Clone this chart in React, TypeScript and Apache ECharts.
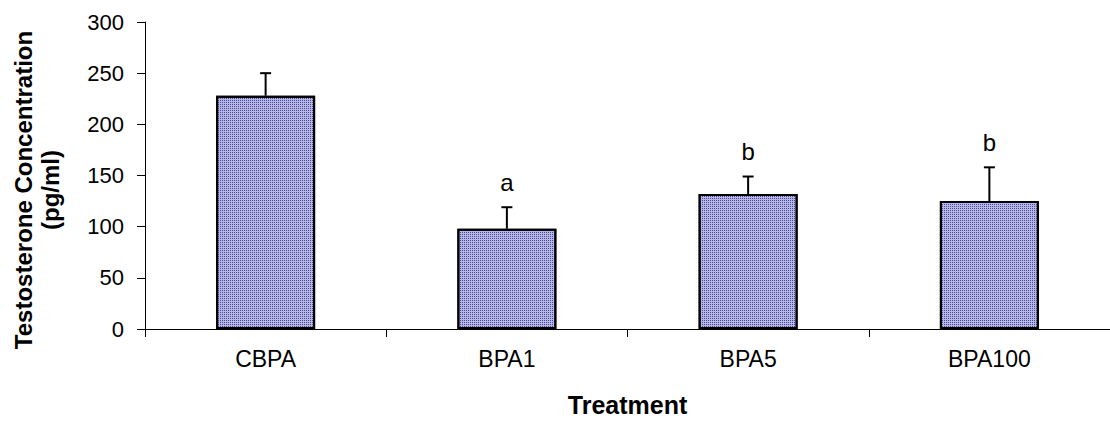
import React, { useEffect, useRef } from "react";
import * as echarts from "echarts";

const categories = ["CBPA", "BPA1", "BPA5", "BPA100"];
const means = [228, 98, 132, 125];
const errors = [22, 21, 17, 33];
const letters = ["", "a", "b", "b"];
const yTicks = [0, 50, 100, 150, 200, 250, 300];

export default function App() {
  const ref = useRef<HTMLDivElement>(null);
  useEffect(() => {
    if (!ref.current) return;
    const chart = echarts.init(ref.current, undefined, { renderer: "svg" });
    const font = "Liberation Sans, Arial, sans-serif";
    chart.setOption({
      animation: false,
      backgroundColor: "#ffffff",
      aria: { enabled: false, decal: { show: false } },
      grid: { left: 145, top: 22, width: 973, height: 309.7 },
      xAxis: {
        type: "category",
        data: categories,
        axisLine: { lineStyle: { color: "#000", width: 1 } },
        axisTick: { show: true, length: 8, lineStyle: { color: "#000" }, alignWithLabel: false },
        axisLabel: { color: "#000", fontSize: 23, fontFamily: font, margin: 18 },
        name: "Treatment",
        nameLocation: "middle",
        nameGap: 63,
        nameTextStyle: { color: "#000", fontSize: 25, fontWeight: "bold", fontFamily: font },
      },
      yAxis: {
        type: "value",
        min: yTicks[0],
        max: yTicks[yTicks.length - 1],
        interval: 50,
        axisLine: { show: true, lineStyle: { color: "#000", width: 1 } },
        axisTick: { show: true, length: 8, lineStyle: { color: "#000" } },
        splitLine: { show: false },
        axisLabel: { color: "#000", fontSize: 22, fontFamily: font, margin: 21 },
      },
      graphic: [
        {
          type: "text",
          x: 37,
          y: 190,
          rotation: Math.PI / 2,
          style: {
            text: "Testosterone Concentration\n(pg/ml)",
            fill: "#000",
            font: `bold 24px ${font}`,
            align: "center",
            verticalAlign: "middle",
            lineHeight: 27,
          },
        },
      ],
      series: [
        {
          type: "bar",
          data: means,
          barWidth: 99,
          itemStyle: {
            color: "#b6b6ee",
            borderColor: "#000",
            borderWidth: 2,
            decal: {
              symbol: "rect",
              symbolSize: 1,
              color: "rgba(40,40,90,0.75)",
              dashArrayX: [1, 1],
              dashArrayY: [1, 1],
              rotation: 0,
            },
          },
          z: 2,
        },
        {
          type: "custom",
          z: 3,
          data: categories.map((c, i) => [i, means[i], errors[i]]),
          renderItem: (params: any, api: any) => {
            const i = api.value(0);
            const m = api.value(1);
            const e = api.value(2);
            const base = api.coord([i, m]);
            const top = api.coord([i, m + e]);
            const cap = 5.5;
            const children: any[] = [
              { type: "line", shape: { x1: base[0], y1: base[1], x2: top[0], y2: top[1] }, style: { stroke: "#000", lineWidth: 2 } },
              { type: "line", shape: { x1: top[0] - cap, y1: top[1], x2: top[0] + cap, y2: top[1] }, style: { stroke: "#000", lineWidth: 2 } },
            ];
            const letter = letters[params.dataIndex];
            if (letter) {
              children.push({
                type: "text",
                x: top[0],
                y: top[1] - 25,
                style: { text: letter, fill: "#000", font: `24px ${font}`, align: "center", verticalAlign: "middle" },
              });
            }
            return { type: "group", children };
          },
        },
      ],
    });
    return () => chart.dispose();
  }, []);
  return (
    <div
      ref={ref}
      style={{ position: "fixed", left: 0, top: 0, width: 1110, height: 422, background: "#fff" }}
    />
  );
}
